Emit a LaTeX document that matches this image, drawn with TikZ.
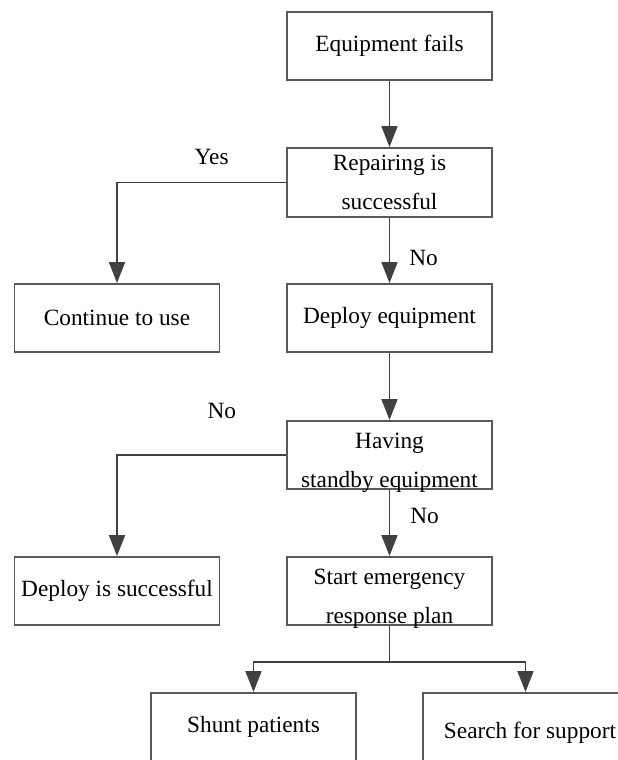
\documentclass[tikz,border=0pt]{standalone}
\usepackage{fontspec}
\setmainfont{Liberation Serif}
\usetikzlibrary{arrows.meta,positioning}

\tikzset{
  stepbox/.style={draw=black!65, line width=1.9pt, minimum width=205pt, minimum height=68pt,
    align=center, inner sep=0pt, font=\fontsize{23.3}{39}\selectfont},
  flow/.style={draw=black!75, line width=1.7pt, -{Triangle[length=21pt, width=16pt]}},
  lbl/.style={font=\fontsize{23.3}{28}\selectfont, inner sep=0pt}
}
% two lines, set a little lower in the box
\newcommand{\lowpair}[2]{\rule{0pt}{26pt}#1\\\raisebox{0pt}[\height][0pt]{#2}}

\begin{document}
\begin{tikzpicture}[x=1pt, y=1pt]
  \clip (0, 0) rectangle (618, -760);
  \useasboundingbox (0, 0) rectangle (618, -760);

  \node[stepbox] (fail) at (389.5, -46) {Equipment fails};
  \node[stepbox, minimum height=69pt] (repair) at (389.5, -182.5) {Repairing is\\successful};
  \node[stepbox] (cont) at (117, -318) {Continue to use};
  \node[stepbox] (deploy) at (389.5, -318) {Deploy equipment};
  \node[stepbox] (standby) at (389.5, -455) {\lowpair{Having}{standby equipment}};
  \node[stepbox] (success) at (117, -591) {Deploy is successful};
  \node[stepbox] (plan) at (389.5, -591) {\lowpair{Start emergency}{response plan}};
  \node[stepbox] (shunt) at (253.5, -727) {Shunt patients};
  \node[stepbox] (search) at (525.5, -727) {\hspace*{9pt}\rule{0pt}{27pt}Search for support};

  \draw[flow] (fail) -- (repair);
  \draw[flow] (repair.west) -| node[lbl, pos=0.22, above=17pt] {Yes} (cont.north);
  \draw[flow] (repair) -- node[lbl, pos=0.62, right=19pt] {No} (deploy);
  \draw[flow] (deploy) -- (standby);
  \draw[flow] (standby.west) -| node[lbl, pos=0.19, above=35pt] {No} (success.north);
  \draw[flow] (standby) -- node[lbl, pos=0.4, right=20pt] {No} (plan);

  % split below the plan
  \coordinate[below=36pt of plan.south] (split);
  \draw[draw=black!75, line width=1.7pt] (plan.south) -- (split);
  \draw[flow] (split) -| (shunt.north);
  \draw[flow] (split) -| (search.north);
\end{tikzpicture}
\end{document}
